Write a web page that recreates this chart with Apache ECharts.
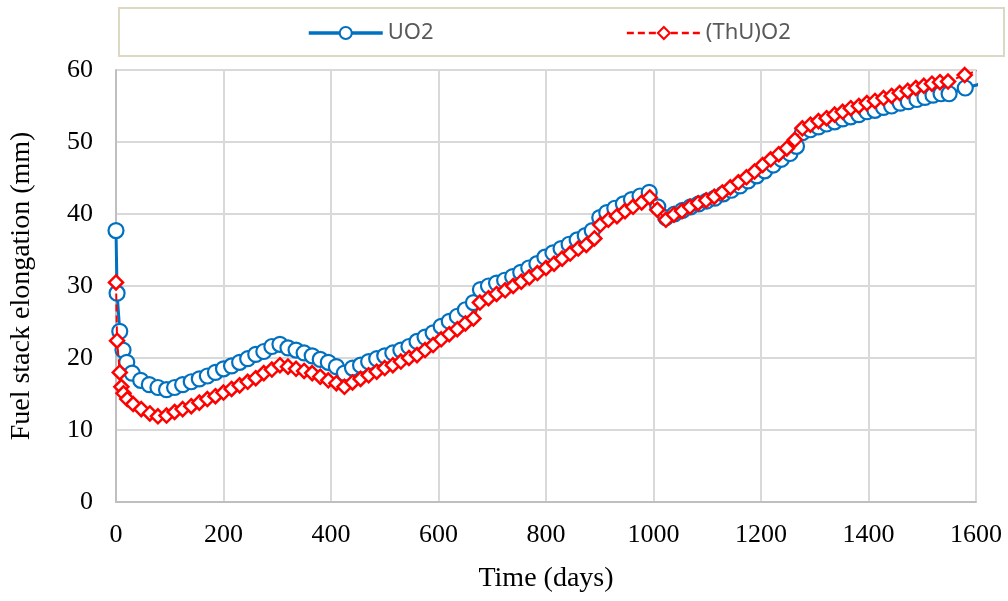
<!DOCTYPE html>
<html><head><meta charset="utf-8">
<script src="https://cdn.jsdelivr.net/npm/echarts@6/dist/echarts.min.js"></script>
<style>html,body{margin:0;padding:0;background:#fff}#c{width:1008px;height:601px}</style>
</head><body><div id="c"></div>
<script>
const seriesNames = ['UO2', '(ThU)O2'];
const uo2Days = [0,2,7,13,20,30,46,62,78,94,109,124,140,155,170,185,200,215,230,245,260,275,290,305,320,335,350,365,380,395,410,425,440,455,470,485,500,515,530,545,560,575,590,605,620,635,650,665,678,693,708,723,738,753,768,783,798,813,828,843,858,873,886,900,913,928,944,959,975,992,1008,1023,1039,1054,1069,1084,1099,1114,1130,1145,1161,1176,1192,1207,1223,1238,1254,1266,1277,1292,1307,1322,1337,1352,1367,1382,1397,1412,1428,1443,1459,1474,1490,1505,1520,1535,1550,1580,1610];
const uo2Values = [37.7,29.0,23.7,21.1,19.4,17.9,16.9,16.3,15.9,15.6,15.9,16.3,16.7,17.1,17.5,18.0,18.5,18.9,19.4,19.9,20.5,20.9,21.6,21.9,21.4,21.1,20.7,20.3,19.8,19.4,18.8,17.9,18.6,19.0,19.5,19.9,20.3,20.7,21.1,21.6,22.3,22.9,23.5,24.4,25.1,25.8,26.7,27.7,29.5,30.0,30.4,30.8,31.3,31.9,32.5,33.1,34.0,34.6,35.2,35.8,36.4,37.0,37.7,39.5,40.2,40.8,41.4,42.0,42.5,43.0,41.0,39.5,40.0,40.5,41.0,41.4,41.8,42.2,42.8,43.3,43.9,44.6,45.3,46.0,46.8,47.6,48.4,49.4,51.3,51.7,52.1,52.5,52.8,53.2,53.5,53.8,54.2,54.4,54.8,55.0,55.4,55.6,55.9,56.2,56.5,56.7,56.7,57.5,58.1];
const thuDays = [0,2,7,10,14,21,32,47,63,78,94,109,124,140,155,170,185,200,215,230,245,260,275,290,305,320,335,350,365,380,395,410,425,440,455,470,485,500,515,530,545,560,575,590,605,620,635,650,665,677,693,708,724,739,754,769,784,800,815,830,845,860,875,890,901,916,932,947,962,978,993,1007,1023,1038,1053,1068,1083,1098,1113,1128,1143,1158,1173,1188,1203,1218,1233,1248,1263,1277,1292,1307,1322,1337,1352,1367,1382,1397,1412,1428,1443,1458,1473,1488,1503,1518,1533,1548,1579,1610];
const thuValues = [30.5,22.4,18.0,16.0,15.1,14.3,13.6,12.9,12.3,11.9,12.0,12.5,12.9,13.3,13.8,14.3,14.7,15.2,15.7,16.2,16.7,17.2,17.9,18.4,19.0,18.8,18.5,18.2,17.9,17.4,16.9,16.5,16.0,16.6,17.1,17.6,18.1,18.6,19.0,19.5,20.0,20.4,21.1,21.8,22.6,23.3,24.0,24.8,25.5,27.7,28.3,28.9,29.4,30.0,30.6,31.2,31.8,32.5,33.1,33.8,34.5,35.2,35.7,36.6,38.5,39.2,39.7,40.4,41.0,41.6,42.3,40.6,39.2,39.9,40.4,41.0,41.5,41.9,42.4,43.0,43.7,44.4,45.1,45.9,46.8,47.6,48.3,49.1,50.3,51.9,52.4,52.9,53.3,53.8,54.2,54.7,55.0,55.4,55.7,56.1,56.4,56.8,57.1,57.5,57.8,58.1,58.3,58.4,59.3,60.1];
const xAxisMin = 0, xAxisMax = 1600, xAxisStep = 200;
const yAxisMin = 0, yAxisMax = 60, yAxisStep = 10;
const xTitle = 'Time (days)';
const yTitle = 'Fuel stack elongation (mm)';

const serif = '"Liberation Serif", "Times New Roman", serif';
const chart = echarts.init(document.getElementById('c'), null, {renderer: 'canvas'});
chart.setOption({
  animation: false,
  backgroundColor: '#ffffff',
  graphic: [{
    type: 'rect', left: 118, top: 7, z: -1,
    shape: {width: 885, height: 48},
    style: {fill: '#ffffff', stroke: '#ddd8c4', lineWidth: 2}
  }],
  legend: {
    top: 17, left: 302, itemGap: 192, itemWidth: 74, itemHeight: 15,
    textStyle: {fontFamily: '"Liberation Sans Narrow", "Noto Sans", sans-serif', fontSize: 22, color: '#595959'},
    data: [
      {name: seriesNames[0], lineStyle: {width: 3.5}},
      {name: seriesNames[1], lineStyle: {width: 2.5}}
    ]
  },
  grid: {left: 116, right: 32, top: 70, bottom: 99, containLabel: false},
  xAxis: {
    type: 'value', min: xAxisMin, max: xAxisMax, interval: xAxisStep,
    name: xTitle, nameLocation: 'middle', nameGap: 63,
    nameTextStyle: {fontFamily: serif, fontSize: 28, color: '#000'},
    axisLine: {show: true, lineStyle: {color: '#bfbfbf', width: 2}},
    axisTick: {show: false},
    axisLabel: {fontFamily: serif, fontSize: 26, color: '#000', margin: 20, formatter: v => String(v)},
    splitLine: {show: true, lineStyle: {color: '#d9d9d9', width: 2}}
  },
  yAxis: {
    type: 'value', min: yAxisMin, max: yAxisMax, interval: yAxisStep,
    name: yTitle, nameLocation: 'middle', nameGap: 80,
    nameTextStyle: {fontFamily: serif, fontSize: 28, color: '#000'},
    axisLine: {show: true, lineStyle: {color: '#bfbfbf', width: 2}},
    axisTick: {show: false},
    axisLabel: {fontFamily: serif, fontSize: 26, color: '#000', margin: 23, formatter: v => String(v)},
    splitLine: {show: true, lineStyle: {color: '#d9d9d9', width: 2}}
  },
  series: [
    {
      name: seriesNames[0], type: 'line', clip: true,
      data: uo2Days.map((d, i) => [d, uo2Values[i]]),
      symbol: 'circle', symbolSize: 15, showAllSymbol: true,
      lineStyle: {color: '#0070c0', width: 3},
      itemStyle: {color: '#ffffff', borderColor: '#0070c0', borderWidth: 2.2},
      z: 2
    },
    {
      name: seriesNames[1], type: 'line', clip: true,
      data: thuDays.map((d, i) => [d, thuValues[i]]),
      symbol: 'diamond', symbolSize: 14, showAllSymbol: true,
      lineStyle: {color: '#ff0000', width: 2, type: [7, 4]},
      itemStyle: {color: '#ffffff', borderColor: '#ff0000', borderWidth: 2.5},
      z: 3
    }
  ]
});
</script>
</body></html>
